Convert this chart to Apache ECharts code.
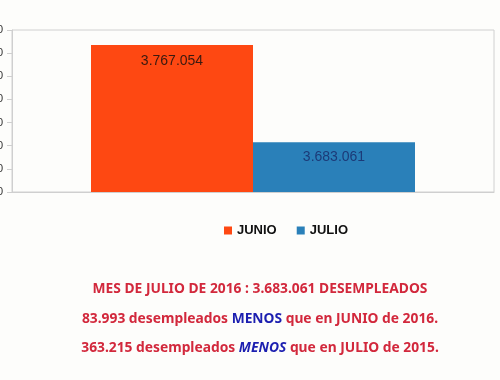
<!DOCTYPE html>
<html><head><meta charset="utf-8">
<script src="https://cdn.jsdelivr.net/npm/echarts@6/dist/echarts.min.js"></script>
<style>html,body{margin:0;padding:0;background:#fdfdfb}#c{width:500px;height:380px}</style>
</head><body><div id="c"></div>
<script>
var categories = ['2016'];
var seriesNames = ['JUNIO', 'JULIO'];
var junioValues = [3767054];
var julioValues = [3683061];
var yMin = 3640000, yMax = 3780000, yInterval = 20000;
var textLines = [
  'MES DE JULIO DE 2016 : 3.683.061 DESEMPLEADOS',
  ['83.993 desempleados ', 'MENOS', ' que en JUNIO de 2016.'],
  ['363.215 desempleados ', 'MENOS', ' que en JULIO de 2015.']
];
function fmt(v){return String(v).replace(/\B(?=(\d{3})+(?!\d))/g,'.');}
var chart = echarts.init(document.getElementById('c'));
var ff = '"Noto Sans", sans-serif';
var fs = 13.8;
chart.setOption({
  backgroundColor:'#fdfdfb',
  animation:false,
  grid:{left:12,right:6,top:30,height:162,containLabel:false,outerBoundsMode:'none',show:true,borderColor:'#d0d0d0',borderWidth:1,backgroundColor:'transparent'},
  legend:{data:seriesNames,top:219,left:219,itemWidth:8,itemHeight:8,itemGap:20,icon:'rect',
    textStyle:{fontFamily:'Liberation Sans, Arial',fontWeight:'bold',fontSize:13,color:'#111'}},
  xAxis:{type:'category',data:categories,axisLine:{lineStyle:{color:'#cfcfcf'}},axisTick:{show:false},axisLabel:{show:false}},
  yAxis:{type:'value',min:yMin,max:yMax,interval:yInterval,splitLine:{show:false},
    axisLine:{show:true,lineStyle:{color:'#cfcfcf',width:1}},
    axisTick:{show:true,length:5,lineStyle:{color:'#cfcfcf'}},
    axisLabel:{margin:9,color:'#333',fontSize:11,fontFamily:'Liberation Sans, Arial',formatter:fmt}},
  series:[
    {name:seriesNames[0],type:'bar',data:junioValues,barWidth:162,barGap:'0%',itemStyle:{color:'#fe4812'},
      label:{show:true,position:'insideTop',distance:9,formatter:function(p){return fmt(p.value);},
        color:'#3a1a10',fontSize:14,fontFamily:'Liberation Sans, Arial'}},
    {name:seriesNames[1],type:'bar',data:julioValues,barWidth:162,itemStyle:{color:'#2a80b9'},
      label:{show:true,position:'insideTop',distance:8,formatter:function(p){return fmt(p.value);},
        color:'#1c3a78',fontSize:14,fontFamily:'Liberation Sans, Arial'}}
  ],
  graphic:[
    {type:'text',x:260,y:289,style:{text:'{r|'+textLines[0]+'}',align:'center',verticalAlign:'middle',
      rich:{r:{fill:'#d2283c',fontFamily:ff,fontWeight:'bold',fontSize:fs}}}},
    {type:'text',x:260,y:319,style:{text:'{r|'+textLines[1][0]+'}{b|'+textLines[1][1]+'}{r|'+textLines[1][2]+'}',align:'center',verticalAlign:'middle',
      rich:{r:{fill:'#d2283c',fontFamily:ff,fontWeight:'bold',fontSize:fs},b:{fill:'#1c1fb0',fontFamily:ff,fontWeight:'bold',fontSize:fs}}}},
    {type:'text',x:260,y:348,style:{text:'{r|'+textLines[2][0]+'}{b|'+textLines[2][1]+'}{r|'+textLines[2][2]+'}',align:'center',verticalAlign:'middle',
      rich:{r:{fill:'#d2283c',fontFamily:ff,fontWeight:'bold',fontSize:fs},b:{fill:'#1c1fb0',fontFamily:ff,fontWeight:'bold',fontStyle:'italic',fontSize:fs}}}}
  ]
});
</script></body></html>
